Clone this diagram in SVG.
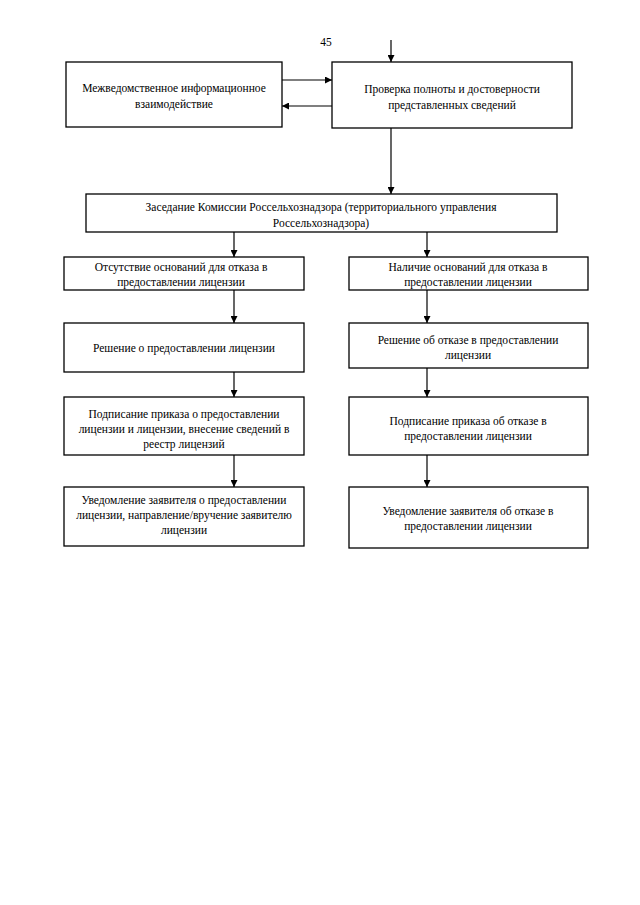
<svg xmlns="http://www.w3.org/2000/svg" width="640" height="905" viewBox="0 0 640 905">
<defs>
<style>
.box{fill:#fff;stroke:#000;stroke-width:1.3}
.t{font-family:"Liberation Serif","Times New Roman",serif;font-size:11.5px;fill:#000;text-anchor:middle}
.c{stroke:#000;stroke-width:1.2;fill:none;marker-end:url(#ah)}
</style>
<marker id="ah" viewBox="0 0 10 10" refX="10" refY="5" markerWidth="7" markerHeight="7" markerUnits="userSpaceOnUse" orient="auto">
<path d="M0,0 L10,5 L0,10 z" fill="#000"/>
</marker>
</defs>
<rect width="640" height="905" fill="#fff"/>
<text class="t" x="326" y="46" font-size="12">45</text>
<g id="connectors">
<line class="c" x1="391" y1="40" x2="391" y2="62"/>
<line class="c" x1="282" y1="80" x2="332" y2="80"/>
<line class="c" x1="332" y1="106" x2="282" y2="106"/>
<line class="c" x1="391" y1="128" x2="391" y2="194"/>
<line class="c" x1="234" y1="232" x2="234" y2="257"/>
<line class="c" x1="427" y1="232" x2="427" y2="257"/>
<line class="c" x1="234" y1="290" x2="234" y2="323"/>
<line class="c" x1="427" y1="290" x2="427" y2="323"/>
<line class="c" x1="234" y1="372" x2="234" y2="397"/>
<line class="c" x1="427" y1="368" x2="427" y2="397"/>
<line class="c" x1="234" y1="455" x2="234" y2="487"/>
<line class="c" x1="427" y1="455" x2="427" y2="487"/>
</g>
<g id="n_mezhved">
<rect class="box" x="66" y="62" width="216" height="65"/>
<text class="t" x="174" y="92">Межведомственное информационное</text>
<text class="t" x="174" y="108">взаимодействие</text>
</g>
<g id="n_proverka">
<rect class="box" x="332" y="62" width="240" height="66"/>
<text class="t" x="452" y="93">Проверка полноты и достоверности</text>
<text class="t" x="452" y="109">представленных сведений</text>
</g>
<g id="n_zasedanie">
<rect class="box" x="86" y="194" width="471" height="38"/>
<text class="t" x="321" y="211">Заседание Комиссии Россельхознадзора (территориального управления</text>
<text class="t" x="321" y="227">Россельхознадзора)</text>
</g>
<g id="n_otsutstvie">
<rect class="box" x="64" y="257" width="240" height="33"/>
<text class="t" x="181" y="271">Отсутствие оснований для отказа в</text>
<text class="t" x="181" y="286">предоставлении лицензии</text>
</g>
<g id="n_nalichie">
<rect class="box" x="349" y="257" width="239" height="33"/>
<text class="t" x="468" y="271">Наличие оснований для отказа в</text>
<text class="t" x="468" y="286">предоставлении лицензии</text>
</g>
<g id="n_reshenie_o">
<rect class="box" x="64" y="323" width="240" height="49"/>
<text class="t" x="184" y="352">Решение о предоставлении лицензии</text>
</g>
<g id="n_reshenie_ob">
<rect class="box" x="349" y="323" width="239" height="45"/>
<text class="t" x="468" y="344">Решение об отказе в предоставлении</text>
<text class="t" x="468" y="359">лицензии</text>
</g>
<g id="n_podpis_o">
<rect class="box" x="64" y="397" width="240" height="58"/>
<text class="t" x="184" y="418">Подписание приказа о предоставлении</text>
<text class="t" x="184" y="433">лицензии и лицензии, внесение сведений в</text>
<text class="t" x="184" y="448">реестр лицензий</text>
</g>
<g id="n_podpis_ob">
<rect class="box" x="349" y="397" width="239" height="58"/>
<text class="t" x="468" y="425">Подписание приказа об отказе в</text>
<text class="t" x="468" y="440">предоставлении лицензии</text>
</g>
<g id="n_uved_o">
<rect class="box" x="64" y="487" width="240" height="59"/>
<text class="t" x="184" y="504">Уведомление заявителя о предоставлении</text>
<text class="t" x="184" y="519">лицензии, направление/вручение заявителю</text>
<text class="t" x="184" y="534">лицензии</text>
</g>
<g id="n_uved_ob">
<rect class="box" x="349" y="487" width="239" height="61"/>
<text class="t" x="468" y="515">Уведомление заявителя об отказе в</text>
<text class="t" x="468" y="530">предоставлении лицензии</text>
</g>
</svg>
